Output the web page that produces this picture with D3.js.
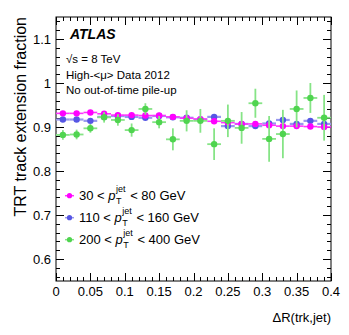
<!DOCTYPE html>
<html>
<head>
<meta charset="utf-8">
<script src="https://cdn.jsdelivr.net/npm/d3@7"></script>
<style>
  body { margin: 0; background: #fff; }
  text { font-family: "Liberation Sans", Arial, Helvetica, sans-serif; fill: #000; }
</style>
</head>
<body>
<div id="chart"></div>
<script>
// 1: DATA
const binCenters = [0.01, 0.03, 0.05, 0.07, 0.09, 0.11, 0.13, 0.15, 0.17, 0.19,
                    0.21, 0.23, 0.25, 0.27, 0.29, 0.31, 0.33, 0.35, 0.37, 0.39];
const binHalfWidth = 0.01;

const lowPt = [0.931, 0.931, 0.933, 0.930, 0.927, 0.927, 0.926, 0.926, 0.923, 0.920,
               0.918, 0.913, 0.910, 0.907, 0.907, 0.904, 0.902, 0.902, 0.901, 0.900];
const lowPtErr = [0.002, 0.002, 0.002, 0.002, 0.002, 0.002, 0.002, 0.002, 0.002, 0.002,
                  0.002, 0.002, 0.002, 0.002, 0.002, 0.002, 0.002, 0.002, 0.002, 0.002];

const midPt = [0.917, 0.917, 0.914, 0.923, 0.925, 0.923, 0.921, 0.925, 0.922, 0.921,
               0.917, 0.923, 0.902, 0.907, 0.902, 0.908, 0.916, 0.907, 0.914, 0.907];
const midPtErr = [0.003, 0.003, 0.003, 0.003, 0.003, 0.003, 0.003, 0.004, 0.004, 0.004,
                  0.004, 0.005, 0.005, 0.005, 0.005, 0.005, 0.006, 0.006, 0.006, 0.006];

const highPt = [0.882, 0.883, 0.897, 0.922, 0.916, 0.893, 0.941, 0.911, 0.872, 0.914,
                0.914, 0.861, 0.914, 0.898, 0.954, 0.873, 0.884, 0.941, 0.966, 0.921];
const highPtErr = [0.011, 0.011, 0.010, 0.012, 0.013, 0.015, 0.013, 0.014, 0.025, 0.024,
                   0.027, 0.036, 0.037, 0.036, 0.033, 0.052, 0.055, 0.042, 0.034, 0.052];

const seriesNames = ["30", "110", "200"];
const seriesUpper = ["80", "160", "400"];

const yTicks = [0.6, 0.7, 0.8, 0.9, 1.0, 1.1];
const xTicks = [0, 0.05, 0.1, 0.15, 0.2, 0.25, 0.3, 0.35, 0.4];

// 2: LAYOUT
const W = 349, H = 335;
const margin = { top: 17, right: 18, bottom: 54, left: 56 };
const width = W - margin.left - margin.right;
const height = H - margin.top - margin.bottom;

const svgRoot = d3.select("#chart").append("svg")
    .attr("width", W)
    .attr("height", H);

const svg = svgRoot.append("g")
    .attr("transform", `translate(${margin.left},${margin.top})`);

// 3: SCALES
const x = d3.scaleLinear().domain([0, 0.4]).range([0, width]);
const y = d3.scaleLinear().domain([0.55, 1.15]).range([height, 0]);

// 4: FRAME AND TICKS (ROOT style, ticks inside on all sides)
svg.append("rect")
    .attr("width", width)
    .attr("height", height)
    .attr("fill", "none")
    .attr("stroke", "#000")
    .attr("stroke-width", 1);

const xMinor = d3.range(0, 0.4001, 0.01);
const yMinor = d3.range(0.56, 1.1501, 0.02);

function tickLine(x1, y1, x2, y2) {
    svg.append("line")
        .attr("x1", x1).attr("y1", y1).attr("x2", x2).attr("y2", y2)
        .attr("stroke", "#000").attr("stroke-width", 1);
}

xMinor.forEach(v => {
    const major = xTicks.some(t => Math.abs(t - v) < 1e-6);
    const len = major ? 8 : 4;
    const px = Math.round(x(v)) + 0.5;
    tickLine(px, height, px, height - len);
    tickLine(px, 0, px, len);
});

yMinor.forEach(v => {
    const major = yTicks.some(t => Math.abs(t - v) < 1e-6);
    const len = major ? 8 : 4;
    const py = Math.round(y(v)) + 0.5;
    tickLine(0, py, len, py);
    tickLine(width, py, width - len, py);
});

// tick labels
svg.selectAll(".xlab")
    .data(xTicks)
    .enter().append("text")
    .attr("x", d => x(d))
    .attr("y", height + 15)
    .attr("text-anchor", "middle")
    .attr("font-size", 13)
    .text(d => d3.format("")(+d.toFixed(2)));

svg.selectAll(".ylab")
    .data(yTicks)
    .enter().append("text")
    .attr("x", -5)
    .attr("y", d => y(d) + 4.5)
    .attr("text-anchor", "end")
    .attr("font-size", 13)
    .text(d => d3.format("")(+d.toFixed(1)));

// axis titles
svg.append("text")
    .attr("x", width)
    .attr("y", height + 41)
    .attr("text-anchor", "end")
    .attr("font-size", 13)
    .text("\u0394R(trk,jet)");

svg.append("text")
    .attr("transform", "rotate(-90)")
    .attr("x", 0)
    .attr("y", -margin.left + 26)
    .attr("text-anchor", "end")
    .attr("font-size", 16)
    .text("TRT track extension fraction");

// 5: PLOT DATA
const series = [
    { vals: midPt, errs: midPtErr, color: "#5656e4", err: "#9898ee", bw: 2.2 },
    { vals: lowPt, errs: lowPtErr, color: "#ff00ff", err: "#ff33ff", bw: 1.6 },
    { vals: highPt, errs: highPtErr, color: "#4fd44f", err: "#86e486", bw: 1.8 }
];

series.forEach(s => {
    const g = svg.append("g");
    const pts = binCenters.map((c, i) => ({ c: c, v: s.vals[i], e: s.errs[i] }));

    g.selectAll(".hbar").data(pts).enter().append("line")
        .attr("x1", d => x(d.c - binHalfWidth))
        .attr("x2", d => x(d.c + binHalfWidth))
        .attr("y1", d => y(d.v))
        .attr("y2", d => y(d.v))
        .attr("stroke", s.err)
        .attr("stroke-width", s.bw);

    g.selectAll(".vbar").data(pts).enter().append("line")
        .attr("x1", d => x(d.c))
        .attr("x2", d => x(d.c))
        .attr("y1", d => y(d.v - d.e))
        .attr("y2", d => y(d.v + d.e))
        .attr("stroke", s.err)
        .attr("stroke-width", s.bw);

    g.selectAll("circle").data(pts).enter().append("circle")
        .attr("cx", d => x(d.c))
        .attr("cy", d => y(d.v))
        .attr("r", 3.2)
        .attr("fill", s.color);
});

// 6: LABELS
svg.append("text")
    .attr("x", 14)
    .attr("y", 22)
    .attr("font-size", 14)
    .attr("font-weight", "bold")
    .attr("font-style", "italic")
    .text("ATLAS");

const infoLines = ["\u221As = 8 TeV", "High-<\u03bc> Data 2012", "No out-of-time pile-up"];
svg.selectAll(".info")
    .data(infoLines)
    .enter().append("text")
    .attr("x", 10)
    .attr("y", (d, i) => 46 + i * 15.5)
    .attr("font-size", 11.5)
    .text(d => d);

// legend
const legendColors = ["#ff00ff", "#5656e4", "#4fd44f"];
const legendLines = ["#ff33ff", "#9898ee", "#86e486"];
seriesNames.forEach((lo, i) => {
    const rowY = 195.7 + i * 22 - margin.top;
    const lg = svg.append("g");
    lg.append("line")
        .attr("x1", 9).attr("x2", 18)
        .attr("y1", rowY).attr("y2", rowY)
        .attr("stroke", legendLines[i]).attr("stroke-width", 1.5);
    lg.append("circle")
        .attr("cx", 13.5).attr("cy", rowY).attr("r", 2.6)
        .attr("fill", legendColors[i]);

    const base = rowY + 4.5;
    let cx = 23;
    const t1 = lg.append("text").attr("x", cx).attr("y", base).attr("font-size", 13)
        .style("white-space", "pre")
        .text(`${lo} < `);
    cx += t1.node().getComputedTextLength();
    const tp = lg.append("text").attr("x", cx).attr("y", base).attr("font-size", 13)
        .attr("font-style", "italic").text("p");
    cx += tp.node().getComputedTextLength() + 0.5;
    const sup = lg.append("text").attr("x", cx).attr("y", base - 8).attr("font-size", 9)
        .text("jet");
    const sub = lg.append("text").attr("x", cx).attr("y", base + 4).attr("font-size", 9)
        .text("T");
    cx += Math.max(sup.node().getComputedTextLength(), sub.node().getComputedTextLength()) + 1;
    lg.append("text").attr("x", cx).attr("y", base).attr("font-size", 13)
        .style("white-space", "pre")
        .text(` < ${seriesUpper[i]} GeV`);
});
</script>
</body>
</html>
